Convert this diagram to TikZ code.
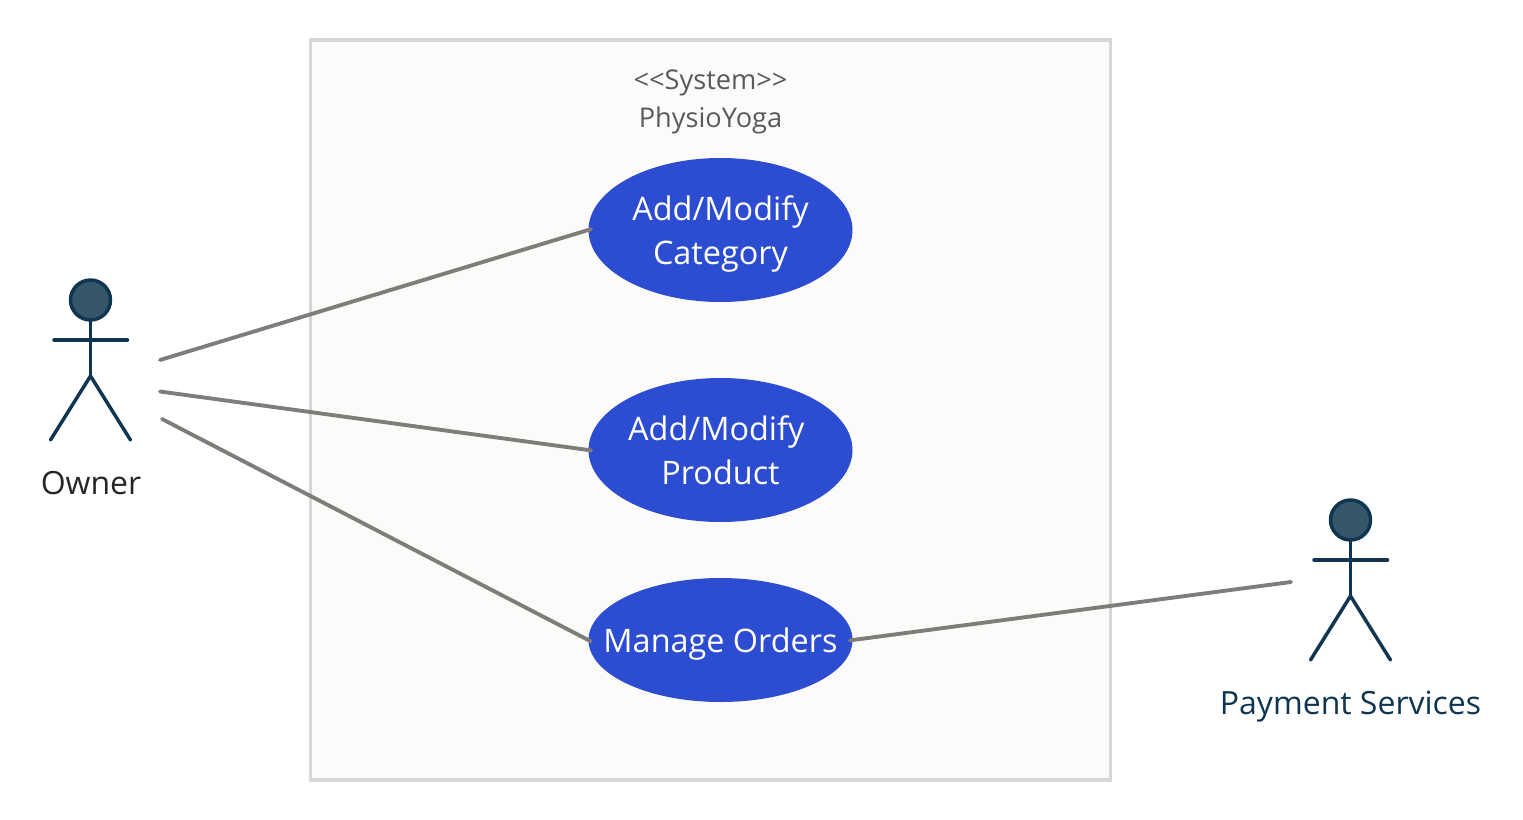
\documentclass[tikz,border=0pt]{standalone}
\usepackage{fontspec}
\setmainfont{Open Sans}
\usetikzlibrary{shapes.geometric}
\definecolor{actorline}{HTML}{0F3550}
\definecolor{actorfill}{HTML}{355668}
\definecolor{usecasefill}{HTML}{2C4DD1}
\definecolor{linkgray}{HTML}{7F7D7A}
\definecolor{systemline}{HTML}{D6D6D6}
\definecolor{systemfill}{HTML}{FCFBFA}
\definecolor{systemtext}{HTML}{5A5A5A}
\newcommand{\casetext}[1]{\raisebox{-9pt}[0pt][0pt]{\makebox[0pt]{\begin{tabular}{@{}c@{}}#1\end{tabular}}}}
\tikzset{
    usecase/.style = {ellipse, fill = usecasefill, text = white, inner sep = 0, minimum width = 198pt, minimum height = 108pt, font = \fontsize{24.3}{33.5}\selectfont},
    link/.style = {draw = linkgray, line width = 2.9pt, line cap = round},
    limb/.style = {draw = actorline, line width = 2.6pt, line cap = round},
    head/.style = {circle, draw = actorline, fill = actorfill, line width = 2.6pt, inner sep = 0, minimum size = 30pt},
    actorname/.style = {font = \fontsize{24}{30}\selectfont}
}
\begin{document}
\begin{tikzpicture}[x = 0.75pt, y = -0.75pt]
    \useasboundingbox (0, 0) rectangle (1523, 820);

    % system box
    \node [draw = systemline, fill = systemfill, line width = 2.6pt, minimum width = 600pt, minimum height = 555pt, inner sep = 0] (system) at (710.5, 410) {};
    \node [text = systemtext, align = center, font = \fontsize{20.4}{28.5}\selectfont] (title) at (710.5, 102) {<{}<System>{}>\\PhysioYoga};

    % use cases
    \node [usecase] (category) at (720.5, 230) {\casetext{Add/Modify\\Category}};
    \node [usecase] (product) at (720.5, 450) {\casetext{Add/Modify\ \null\\Product}};
    \node [usecase, minimum height = 93pt] (orders) at (720.5, 640) {\casetext{Manage Orders}};

    % actors
    \foreach \n/\x/\y in {owner/90.5/300, payment/1350.5/520} {
        \node [head] (\n head) at (\x, \y) {};
        \coordinate (\n hip) at (\x, \y + 76);
        \coordinate (\n arml) at (\x - 36.5, \y + 40);
        \coordinate (\n armr) at (\x + 37, \y + 40);
        \coordinate (\n legl) at (\x - 40, \y + 140);
        \coordinate (\n legr) at (\x + 40, \y + 140);
        \draw [limb] (\n head) -- (\n hip);
        \draw [limb] (\n arml) -- (\n armr);
        \draw [limb] (\n legl) -- (\n hip) -- (\n legr);
    }
    \node [actorname, text = black!85] (ownername) at (91, 483) {Owner};
    \node [actorname, text = actorline] (paymentname) at (1350.5, 707) {Payment Services};

    % links
    \coordinate (ownerout1) at (160, 360);
    \coordinate (ownerout2) at (160, 391.5);
    \coordinate (ownerout3) at (162, 419);
    \coordinate (paymentout) at (1291, 582);
    \draw [link, shorten > = -2.2pt] (ownerout1) -- (category.west);
    \draw [link, shorten > = -2.2pt] (ownerout2) -- (product.west);
    \draw [link, shorten > = -2.2pt] (ownerout3) -- (orders.west);
    \draw [link, shorten > = -2.2pt] (paymentout) -- (orders.east);
\end{tikzpicture}
\end{document}
